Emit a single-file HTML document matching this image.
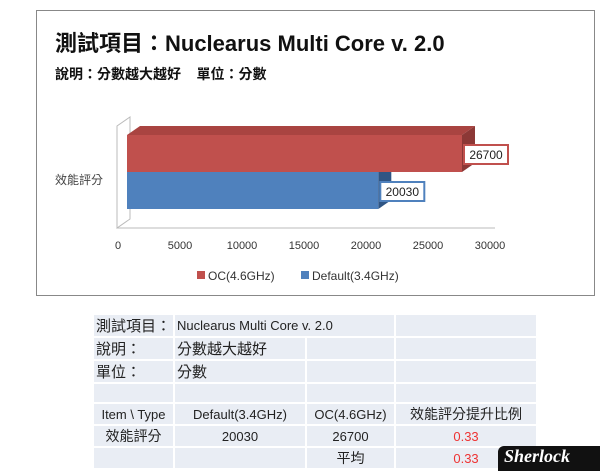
<!DOCTYPE html>
<html><head><meta charset="utf-8"><style>
body{margin:0;width:600px;height:471px;background:#fff;position:relative;overflow:hidden;font-family:"Liberation Sans","Noto Sans CJK TC",sans-serif}
#frame{position:absolute;left:36px;top:10px;width:559px;height:286px;border:1px solid #888;box-sizing:border-box}
table{position:absolute;left:92px;top:313px;border-collapse:collapse;font-size:13px;color:#222;table-layout:fixed;width:444px}
td{background:#e9edf4;border:2px solid #fff;height:18px;padding:0 2px;white-space:nowrap;overflow:hidden}
.c{text-align:center}.r{color:#e33}
</style></head><body>
<div id="frame"></div>
<div style="position:absolute;left:55px;top:26px;font-size:22px;font-weight:bold;color:#111">測試項目：Nuclearus Multi Core v. 2.0</div>
<div style="position:absolute;left:55px;top:64px;font-size:14px;font-weight:bold;color:#111">說明：分數越大越好&nbsp;&nbsp;&nbsp;&nbsp;單位：分數</div>
<svg id="chart" width="600" height="300" style="position:absolute;left:0;top:0"></svg>
<table>
<colgroup><col style="width:81px"><col style="width:132px"><col style="width:89px"><col style="width:142px"></colgroup>
<tr><td style="font-size:15px">測試項目：</td><td colspan="2">Nuclearus Multi Core v. 2.0</td><td></td></tr>
<tr><td style="font-size:15px">說明：</td><td style="font-size:15px">分數越大越好</td><td></td><td></td></tr>
<tr><td style="font-size:15px">單位：</td><td style="font-size:15px">分數</td><td></td><td></td></tr>
<tr><td></td><td></td><td></td><td></td></tr>
<tr><td class="c">Item \ Type</td><td class="c">Default(3.4GHz)</td><td class="c">OC(4.6GHz)</td><td class="c" style="font-size:14px">效能評分提升比例</td></tr>
<tr><td class="c" style="font-size:14px">效能評分</td><td class="c">20030</td><td class="c">26700</td><td class="c r">0.33</td></tr>
<tr><td></td><td></td><td class="c" style="font-size:14px">平均</td><td class="c r">0.33</td></tr>
</table>
<div style="position:absolute;left:498px;top:446px;width:102px;height:25px;background:#111;border-radius:6px 0 0 0;color:#fff;font:italic bold 18px 'Liberation Serif',serif;padding-left:6px;box-sizing:border-box">Sherlock</div>
<script>
const categories=["OC(4.6GHz)","Default(3.4GHz)"];
const values=[26700,20030];
const ticks=[0,5000,10000,15000,20000,25000,30000];
const front=["#c0504d","#4f81bd"],top_=["#a94441","#3f6ea6"],side=["#8c3836","#2f5584"];
const svg=document.getElementById('chart');const NS="http://www.w3.org/2000/svg";
function el(t,a){const e=document.createElementNS(NS,t);for(const k in a)e.setAttribute(k,a[k]);svg.appendChild(e);return e;}
const x=v=>127+v*335/26700, tx=v=>118+v*372/30000;
const dx=13,dy=-9;
let w=el('path',{d:"M117 228 L117 126 L130 117 L130 219 Z M117 228 L495 228",fill:"none",stroke:"#bbb"});

ticks.forEach(t=>{const e=el('text',{x:tx(t),y:249,'font-size':11,'text-anchor':'middle',fill:'#333'});e.textContent=t;
});
const yl=el('text',{x:55,y:184,'font-size':12,fill:'#444'});yl.textContent="效能評分";

const order=[1,0];
order.forEach(i=>{const v=values[i];const y0=135+i*37,h=37,x1=x(v);
 const g=document.createElementNS(NS,'g');svg.appendChild(g);
 
 [[`M127 ${y0} L${127+dx} ${y0+dy} L${x1+dx} ${y0+dy} L${x1} ${y0} Z`,top_[i]],[`M${x1} ${y0} L${x1+dx} ${y0+dy} L${x1+dx} ${y0+h+dy} L${x1} ${y0+h} Z`,side[i]]].forEach(p=>{const e=document.createElementNS(NS,'path');e.setAttribute('d',p[0]);e.setAttribute('fill',p[1]);g.appendChild(e);});
 const r=document.createElementNS(NS,'rect');r.setAttribute('x',127);r.setAttribute('y',y0);r.setAttribute('width',x1-127);r.setAttribute('height',h);r.setAttribute('fill',front[i]);g.appendChild(r);
});
values.forEach((v,i)=>{const y0=135+i*37,x1=x(v);
 const lb=el('rect',{x:x1+2,y:y0+10,width:44,height:19,fill:'#fff',stroke:front[i],'stroke-width':2});
 
 const t=el('text',{x:x1+24,y:y0+24,'font-size':12,'text-anchor':'middle',fill:'#222'});t.textContent=v;
 
 const lx=[197,301][i];
 const ls=el('rect',{x:lx,y:271,width:8,height:8,fill:front[i]});
 
 const lt=el('text',{x:lx+11,y:280,'font-size':12,fill:'#333'});lt.textContent=categories[i];
 
});
</script>
</body></html>
